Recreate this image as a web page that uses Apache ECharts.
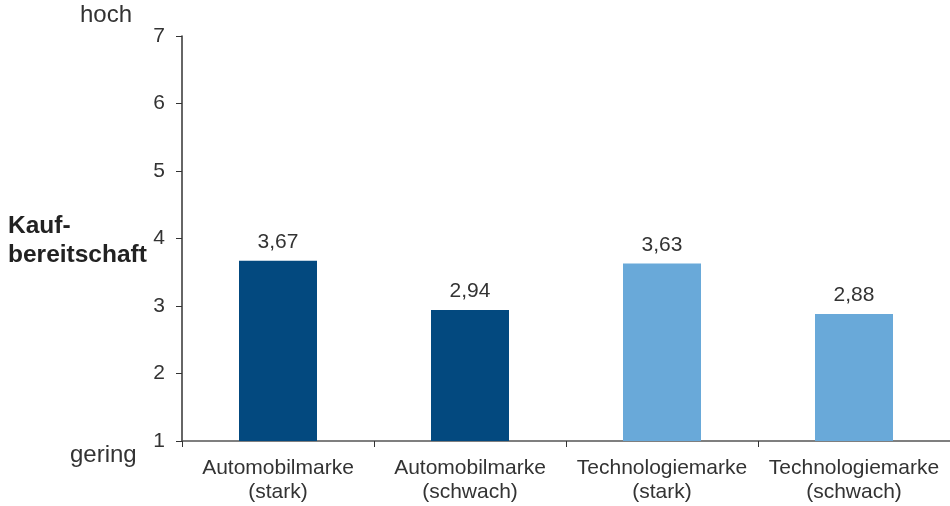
<!DOCTYPE html>
<html><head><meta charset="utf-8">
<script src="https://cdn.jsdelivr.net/npm/echarts@6/dist/echarts.min.js"></script>
<style>html,body{margin:0;padding:0;background:#fff}#c{width:950px;height:506px}</style>
</head><body><div id="c"></div>
<script>
const categories = ["Automobilmarke\n(stark)", "Automobilmarke\n(schwach)", "Technologiemarke\n(stark)", "Technologiemarke\n(schwach)"];
const values = [3.67, 2.94, 3.63, 2.88];
const barColors = ["#03497f", "#03497f", "#69a9d9", "#69a9d9"];
const yTicks = [1, 2, 3, 4, 5, 6, 7];

const chart = echarts.init(document.getElementById('c'));
const font = 'Liberation Sans, Arial, sans-serif';
chart.setOption({
  animation: false,
  grid: {left: 182, right: -2, top: 36, bottom: 65, containLabel: false},
  xAxis: {
    type: 'category', data: categories,
    axisLine: {lineStyle: {color: '#555', width: 1.5}},
    axisTick: {show: true, alignWithLabel: false, length: 6, lineStyle: {color: '#333'}},
    axisLabel: {color: '#333', fontSize: 21, fontFamily: font, margin: 15, lineHeight: 24, interval: 0}
  },
  yAxis: {
    type: 'value', min: 1, max: 7, interval: 1,
    axisLine: {show: true, lineStyle: {color: '#333', width: 1.5}},
    axisTick: {show: true, length: 6, lineStyle: {color: '#333'}},
    splitLine: {show: false},
    axisLabel: {color: '#333', fontSize: 21, fontFamily: font, margin: 17,
      formatter: v => yTicks.includes(v) ? String(v) : ''}
  },
  series: [{
    type: 'bar', barWidth: 78,
    data: values.map((v, i) => ({value: v, itemStyle: {color: barColors[i]}})),
    label: {show: true, position: 'top', distance: 8, color: '#333', fontSize: 21, fontFamily: font,
      formatter: p => p.value.toFixed(2).replace('.', ',')}
  }],
  graphic: [
    {type: 'text', left: 80, top: 3, style: {text: 'hoch', fontSize: 24, fontFamily: font, fill: '#333'}},
    {type: 'text', left: 70, top: 443, style: {text: 'gering', fontSize: 24, fontFamily: font, fill: '#333'}},
    {type: 'text', left: 8, top: 212, style: {text: 'Kauf-\nbereitschaft', fontSize: 24.5, fontWeight: 'bold', lineHeight: 29, fontFamily: font, fill: '#222'}}
  ]
});
</script></body></html>
